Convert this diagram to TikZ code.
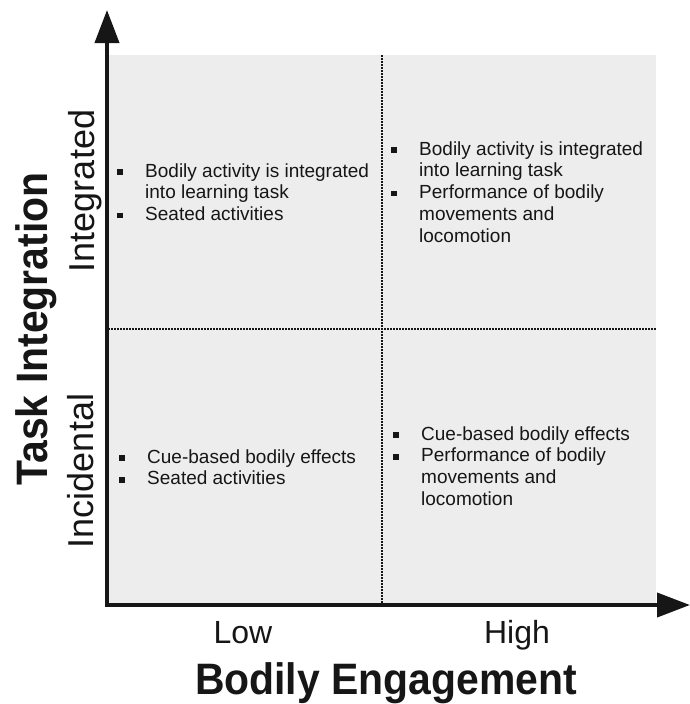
\documentclass[tikz,border=0pt]{standalone}
\usepackage{fontspec}
\setmainfont{Liberation Sans}
\newfontfamily\titlefont[FakeStretch=0.93]{Liberation Sans}
\usetikzlibrary{arrows.meta}
\definecolor{quadgray}{RGB}{236,237,236}
\definecolor{ink}{RGB}{22,22,22}
\newcommand{\bitem}[1]{\par\noindent\hangindent=28pt\hangafter=1\makebox[28pt][l]{\rule[2.3pt]{5.5pt}{5.5pt}}#1}
\newcommand{\quadtext}[1]{\parbox[t]{270pt}{\fontsize{19}{21.8}\selectfont\raggedright #1}}
\tikzset{
  axis/.style={line width=4pt, ink, line cap=rect, -{Triangle[length=33pt,width=24pt]}},
  divider/.style={line width=1.3pt, ink, dash pattern=on 2pt off 1pt},
  quad/.style={anchor=base west, inner sep=0pt, text=ink},
  level/.style={anchor=base, inner sep=0pt, text=ink, font=\fontsize{32}{36}\selectfont},
  sidelevel/.style={anchor=base, inner sep=0pt, text=ink, rotate=90, font=\fontsize{36}{40}\selectfont},
  axistitle/.style={anchor=base, inner sep=0pt, text=ink, font=\titlefont\fontsize{44}{48}\selectfont\bfseries}
}
\begin{document}
\begin{tikzpicture}[x=1pt,y=-1pt]
\useasboundingbox (0,0) rectangle (690,704);
% background field
\fill[quadgray] (108,55) rectangle (656,605);
% dividers
\coordinate (vtop) at (382,55);
\coordinate (vbot) at (382,605);
\coordinate (hleft) at (108,329);
\coordinate (hright) at (656,329);
\draw[divider] (vtop) -- (vbot);
\draw[divider] (hleft) -- (hright);
% axes
\coordinate (O) at (107,605);
\coordinate (ytip) at (107,10);
\coordinate (xtip) at (690,605);
\draw[axis] (O) -- (ytip);
\draw[axis] (O) -- (xtip);
% quadrant texts
\node[quad] (tl) at (117,177) {\quadtext{\bitem{Bodily activity is integrated\newline into learning task}\bitem{Seated activities}}};
\node[quad] (tr) at (391,155) {\quadtext{\bitem{Bodily activity is integrated\newline into learning task}\bitem{Performance of bodily\newline movements and\newline locomotion}}};
\node[quad] (bl) at (119,463) {\quadtext{\bitem{Cue-based bodily effects}\bitem{Seated activities}}};
\node[quad] (br) at (393,440) {\quadtext{\bitem{Cue-based bodily effects}\bitem{Performance of bodily\newline movements and\newline locomotion}}};
% level labels
\node[level] (low) at (243,643) {Low};
\node[level] (high) at (517,643) {High};
\node[sidelevel] (integ) at (94,191) {Integrated};
\node[sidelevel] (incid) at (93,471) {Incidental};
% axis titles
\node[axistitle] (xtitle) at (386,694) {Bodily Engagement};
\node[axistitle, rotate=90] (ytitle) at (47,329) {Task Integration};
\end{tikzpicture}
\end{document}
